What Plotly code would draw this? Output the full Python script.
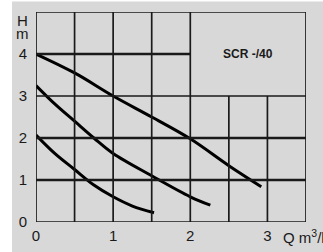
import plotly.graph_objects as go

# data
q1 = [0, 0.5, 1.0, 1.5, 2.0, 2.5, 2.92]
h1 = [4.0, 3.55, 3.0, 2.5, 1.98, 1.34, 0.84]
q2 = [0, 0.25, 0.5, 0.75, 1.0, 1.5, 2.0, 2.26]
h2 = [3.25, 2.8, 2.4, 2.0, 1.63, 1.1, 0.6, 0.4]
q3 = [0, 0.25, 0.5, 0.75, 1.0, 1.25, 1.53]
h3 = [2.07, 1.62, 1.25, 0.88, 0.6, 0.38, 0.22]
x_ticks = [0, 1, 2, 3]
y_ticks = [0, 1, 2, 3, 4]
label = "SCR -/40"

fig = go.Figure()
for q, h in [(q1, h1), (q2, h2), (q3, h3)]:
    fig.add_trace(go.Scatter(x=q, y=h, mode="lines",
                             line=dict(color="black", width=3, shape="spline"),
                             showlegend=False, hoverinfo="skip"))

shapes = []
L, R, T, B = 36, 306, 12, 222
W, H = R - L, B - T
def px(xp): return (xp - L) / W
def py(yp): return (B - yp) / H
shapes.append(dict(type="rect", xref="paper", yref="paper",
                   x0=px(12), x1=px(330), y0=py(260), y1=py(1.5),
                   fillcolor="#d8d8d8", line=dict(width=0), layer="below"))
thin = dict(color="#1a1a1a", width=1.7)
thick = dict(color="#1a1a1a", width=2.6)
for xv in [0, 0.5, 1.0, 1.5, 2.0, 3.5]:
    shapes.append(dict(type="line", x0=xv, x1=xv, y0=0, y1=5, line=thin))
for xv in [2.5, 3.0]:
    shapes.append(dict(type="line", x0=xv, x1=xv, y0=0, y1=3, line=thin))
for yv in [0, 3, 5]:
    shapes.append(dict(type="line", x0=0, x1=3.5, y0=yv, y1=yv, line=thin))
for yv in [1, 2]:
    shapes.append(dict(type="line", x0=0, x1=3.5, y0=yv, y1=yv, line=thick))
shapes.append(dict(type="line", x0=0, x1=2.0, y0=4, y1=4,
                   line=dict(color="#1a1a1a", width=2.6)))

fam = "Liberation Sans, Arial, sans-serif"
font = dict(family=fam, size=15, color="#1a1a1a")
fig.update_layout(
    width=323, height=252,
    margin=dict(l=L, r=323 - R, t=T, b=252 - B, autoexpand=False),
    paper_bgcolor="white", plot_bgcolor="rgba(0,0,0,0)",
    shapes=shapes,
    xaxis=dict(range=[0, 3.5], tickvals=x_ticks, ticktext=[str(v) for v in x_ticks],
               showgrid=False, zeroline=False, showline=False, ticks="",
               tickfont=font, ticklabelstandoff=3, fixedrange=True),
    yaxis=dict(range=[0, 5], tickvals=y_ticks, ticktext=[str(v) for v in y_ticks],
               showgrid=False, zeroline=False, showline=False, ticks="",
               tickfont=font, ticklabelstandoff=8, fixedrange=True),
    annotations=[
        dict(text="<b>" + label + "</b>", x=2.75, y=4.0, xref="x", yref="y",
             showarrow=False, font=dict(family=fam, size=12, color="#1a1a1a")),
        dict(text="H", x=px(22.5), y=py(21), xref="paper", yref="paper", showarrow=False,
             font=font, xanchor="center", yanchor="middle"),
        dict(text="m", x=px(22.5), y=py(34), xref="paper", yref="paper", showarrow=False,
             font=font, xanchor="center", yanchor="middle"),
        dict(text="Q m<sup>3</sup>/h", x=px(281), y=py(236), xref="paper", yref="paper",
             showarrow=False, font=font, xanchor="left", yanchor="middle"),
    ],
)
fig.write_html("out.html", config={"displayModeBar": False},
               post_script="document.body.style.margin='0';document.body.style.padding='0';")
